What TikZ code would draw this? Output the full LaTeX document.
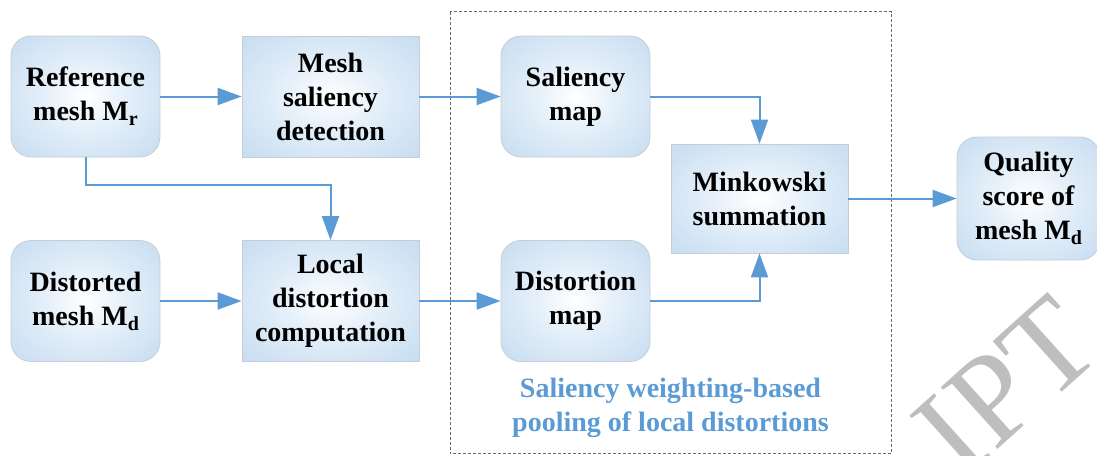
\documentclass[tikz,border=0pt]{standalone}
\usepackage{fontspec}
\setmainfont{Liberation Serif}
\usetikzlibrary{arrows.meta}

\definecolor{flowblue}{HTML}{5B9BD5}
\definecolor{boxedge}{HTML}{C8CDD3}
\definecolor{glowin}{HTML}{E4EFF9}
\definecolor{glowmid}{HTML}{BDD7EF}
\definecolor{glowout}{HTML}{A6C8E8}
\definecolor{wmgray}{HTML}{BEBEBE}
\definecolor{framegray}{HTML}{6A6A6A}

\pgfdeclareradialshading{meshglow}{\pgfpoint{0bp}{0bp}}{color(0bp)=(white); color(14bp)=(glowin); color(42bp)=(glowmid); color(71bp)=(glowout)}

\newcommand\meshsub[1]{\raisebox{-5pt}{\fontsize{20}{20}\selectfont #1}}

\tikzset{
    meshbox/.style={draw=boxedge, line width=0.8pt, shading=meshglow, rounded corners=20pt,
        minimum width=149pt, minimum height=121pt, align=center, inner sep=2pt,
        font=\fontsize{28}{34}\selectfont\bfseries},
    stagebox/.style={meshbox, sharp corners, minimum width=177pt},
    flow/.style={draw=flowblue, line width=2pt, -{Triangle[length=24pt, width=17pt]}},
    poolframe/.style={draw=framegray, line width=0.8pt, dash pattern=on 3pt off 2pt},
    pooltext/.style={text=flowblue, align=center, inner sep=0pt,
        font=\fontsize{28}{34}\selectfont\bfseries},
    wmark/.style={text=wmgray, rotate=42, inner sep=0pt, font=\fontsize{128}{128}\selectfont}
}

\begin{document}
\begin{tikzpicture}[x=1pt, y=-1pt]
        \useasboundingbox (0,0) rectangle (1097,455);

        \node[wmark] (watermark) at (1006,386) {IPT};
        \draw[poolframe] (450,11.5) rectangle (891.5,453.5);

        \node[meshbox] (refmesh) at (85.5,96.5) {Reference\\mesh M\meshsub{r}};
        \node[stagebox] (salidet) at (330.5,96.5) {Mesh\\saliency\\detection};
        \node[meshbox] (distmesh) at (85.5,301) {Distorted\\mesh M\meshsub{d}};
        \node[stagebox] (locdist) at (330.5,301) {Local\\distortion\\computation};
        \node[meshbox] (salmap) at (575.5,96.5) {Saliency\\map};
        \node[meshbox] (distmap) at (575.5,301) {Distortion\\map};
        \node[stagebox, minimum height=109pt] (mink) at (759.5,198.5) {Minkowski\\summation};
        \node[meshbox, minimum width=143pt, minimum height=123pt] (quality) at (1028.5,198.5)
            {Quality\\score of\\mesh M\meshsub{d}};
        \node[pooltext] (pooltitle) at (670.5,408)
            {Saliency weighting-based\\pooling of local distortions};

        \coordinate (refbend) at (85.5,184.5);

        \draw[flow] (refmesh) -- (salidet);
        \draw[flow] (salidet) -- (salmap);
        \draw[flow] (refmesh) -- (refbend) -| (locdist);
        \draw[flow] (distmesh) -- (locdist);
        \draw[flow] (locdist) -- (distmap);
        \draw[flow] (salmap) -| (mink);
        \draw[flow] (distmap) -| (mink);
        \draw[flow] (mink) -- (quality);
    \end{tikzpicture}
\end{document}
